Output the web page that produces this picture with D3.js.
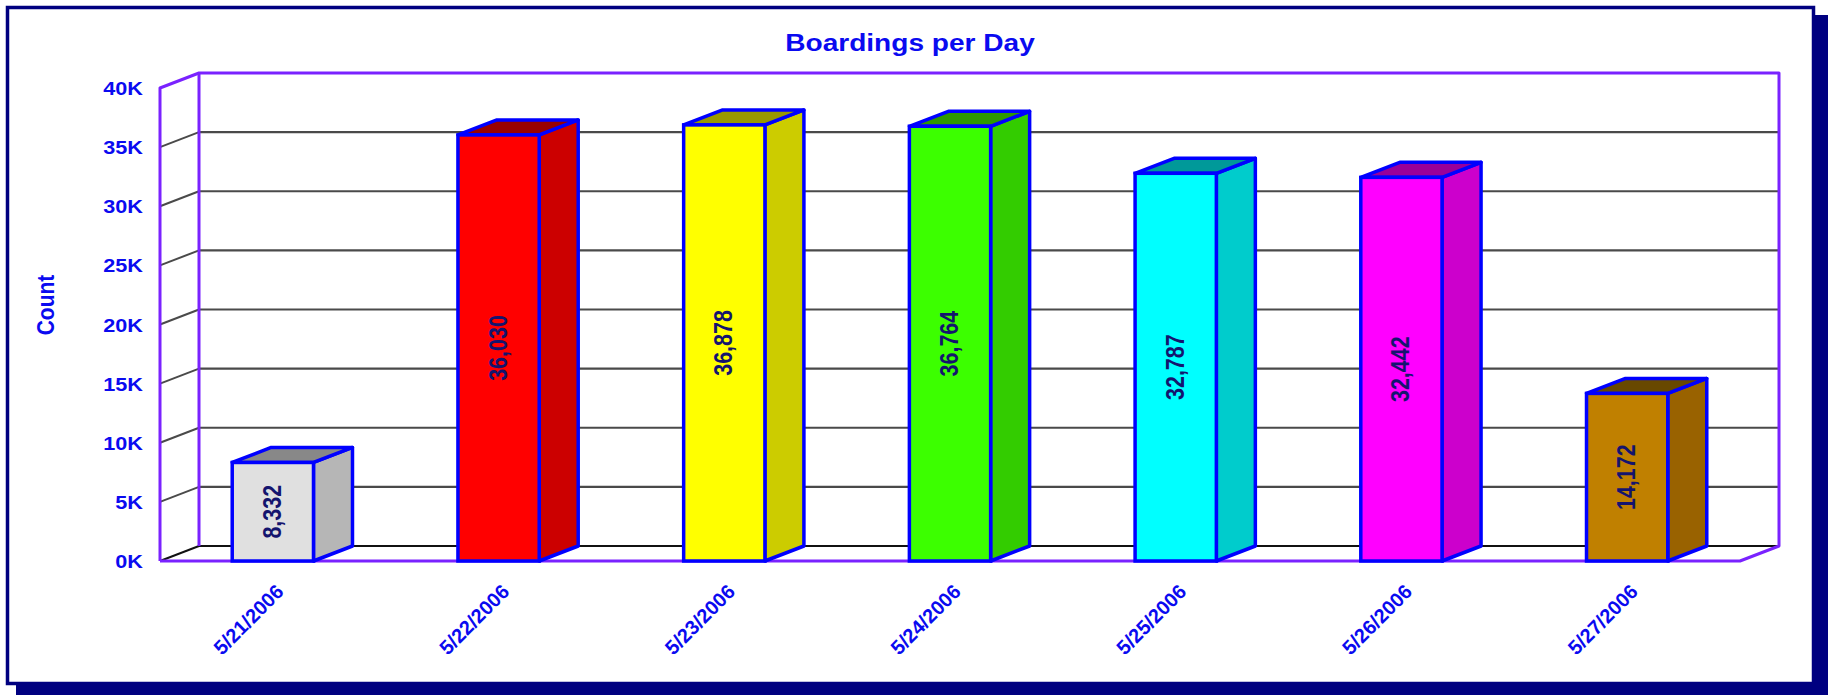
<!DOCTYPE html>
<html>
<head>
<meta charset="utf-8">
<script src="https://cdn.jsdelivr.net/npm/d3@7"></script>
<style>
  html, body { margin: 0; padding: 0; background: #ffffff; }
  svg { display: block; }
  text { font-family: "Liberation Sans", Arial, sans-serif; font-weight: bold; }
</style>
</head>
<body>
<svg id="chart" width="1830" height="695"></svg>
<script>
// Daily boardings, one bar per day
const days = ["5/21/2006", "5/22/2006", "5/23/2006", "5/24/2006", "5/25/2006", "5/26/2006", "5/27/2006"];
const boardings = [8332, 36030, 36878, 36764, 32787, 32442, 14172];
const yTickValues = [0, 5000, 10000, 15000, 20000, 25000, 30000, 35000, 40000];
const yTickLabels = ["0K", "5K", "10K", "15K", "20K", "25K", "30K", "35K", "40K"];
const faceColors = ["#e0e0e0", "#ff0000", "#ffff00", "#3cff00", "#00ffff", "#ff00ff", "#c08000"];
const sideColors = ["#b6b6b6", "#cc0000", "#cccc00", "#33cc00", "#00cccc", "#cc00cc", "#996200"];
const topColors  = ["#888888", "#990000", "#999900", "#2e9900", "#009999", "#990099", "#684800"];

const svg = d3.select("#chart");
const W = 1830, H = 695;

// 3-D depth offset of the plot box
const DX = 39, DY = -15;
const SX = 1.17; // horizontal glyph stretch

const x = d3.scaleBand().domain(days).range([160, 1740]).paddingInner(0.64).paddingOuter(0.32);
const y = d3.scaleLinear().domain([0, 40000]).range([561, 88]);

const navy = "#000080", wall = "#7a22ff", grid = "#4a4a4a", edge = "#0000ff";
const textBlue = "#0a0af0", valueInk = "#14146e";

// frame with drop shadow
svg.append("rect").attr("x", 16).attr("y", 15).attr("width", W - 16 - 2).attr("height", H - 15).attr("fill", navy);
svg.append("rect").attr("x", 7.5).attr("y", 7.5).attr("width", 1806).attr("height", 676)
  .attr("fill", "#ffffff").attr("stroke", navy).attr("stroke-width", 3.5);

const x0 = x.range()[0], x1 = x.range()[1];
const plot = svg.append("g");

// back-wall and side-wall gridlines
yTickValues.forEach(v => {
  if (v === 40000) return;
  const yf = y(v);
  const col = v === 0 ? "#111" : grid;
  plot.append("line").attr("x1", x0 + DX).attr("x2", x1 + DX).attr("y1", yf + DY).attr("y2", yf + DY)
    .attr("stroke", col).attr("stroke-width", 2.2);
  plot.append("line").attr("x1", x0).attr("y1", yf).attr("x2", x0 + DX).attr("y2", yf + DY)
    .attr("stroke", col).attr("stroke-width", 2);
});

// box outline
const yTop = y(40000), yBot = y(0);
const outline = [
  [[x0, yBot], [x0, yTop], [x0 + DX, yTop + DY], [x1 + DX, yTop + DY], [x1 + DX, yBot + DY], [x1, yBot], [x0, yBot]],
  [[x0 + DX, yTop + DY], [x0 + DX, yBot + DY]]
];
outline.forEach(pts => {
  plot.append("path").attr("d", d3.line()(pts)).attr("fill", "none")
    .attr("stroke", wall).attr("stroke-width", 3).attr("stroke-linejoin", "round");
});

// bars
const bars = plot.selectAll("g.bar").data(days).join("g").attr("class", "bar");
bars.each(function(d, i) {
  const g = d3.select(this);
  const l = x(d), r = x(d) + x.bandwidth(), t = y(boardings[i]), b = y(0);
  const sw = 3.5;
  g.append("path").attr("d", d3.line()([[r, b], [r + DX, b + DY], [r + DX, t + DY], [r, t]]) + "Z")
    .attr("fill", sideColors[i]).attr("stroke", edge).attr("stroke-width", sw).attr("stroke-linejoin", "round");
  g.append("path").attr("d", d3.line()([[l, t], [l + DX, t + DY], [r + DX, t + DY], [r, t]]) + "Z")
    .attr("fill", topColors[i]).attr("stroke", edge).attr("stroke-width", sw).attr("stroke-linejoin", "round");
  g.append("rect").attr("x", l).attr("y", t).attr("width", r - l).attr("height", b - t)
    .attr("fill", faceColors[i]).attr("stroke", edge).attr("stroke-width", sw);
  g.append("text")
    .attr("transform", `translate(${(l + r) / 2 + 8},${(t + b) / 2}) scale(${SX},1) rotate(-90)`)
    .attr("text-anchor", "middle").attr("font-size", 21.5).attr("fill", valueInk)
    .text(d3.format(",")(boardings[i]));
});

// y tick labels
svg.append("g").selectAll("text").data(yTickValues).join("text")
  .attr("transform", v => `translate(143,${y(v) + 7}) scale(${SX},1)`)
  .attr("text-anchor", "end").attr("font-size", 18.5).attr("fill", textBlue)
  .text((v, i) => yTickLabels[i]);

// x tick labels
svg.append("g").selectAll("text").data(days).join("text")
  .attr("transform", d => `translate(${x(d) + x.bandwidth() / 2 + 12},${yBot + 32}) rotate(-45)`)
  .attr("text-anchor", "end").attr("font-size", 20).attr("fill", textBlue)
  .text(d => d);

// titles
svg.append("text").attr("transform", `translate(910,51) scale(${SX},1)`)
  .attr("text-anchor", "middle").attr("font-size", 24).attr("fill", textBlue)
  .text("Boardings per Day");
svg.append("text").attr("transform", `translate(54,305) scale(${SX},1) rotate(-90)`)
  .attr("text-anchor", "middle").attr("font-size", 21).attr("fill", textBlue)
  .text("Count");
</script>
</body>
</html>
